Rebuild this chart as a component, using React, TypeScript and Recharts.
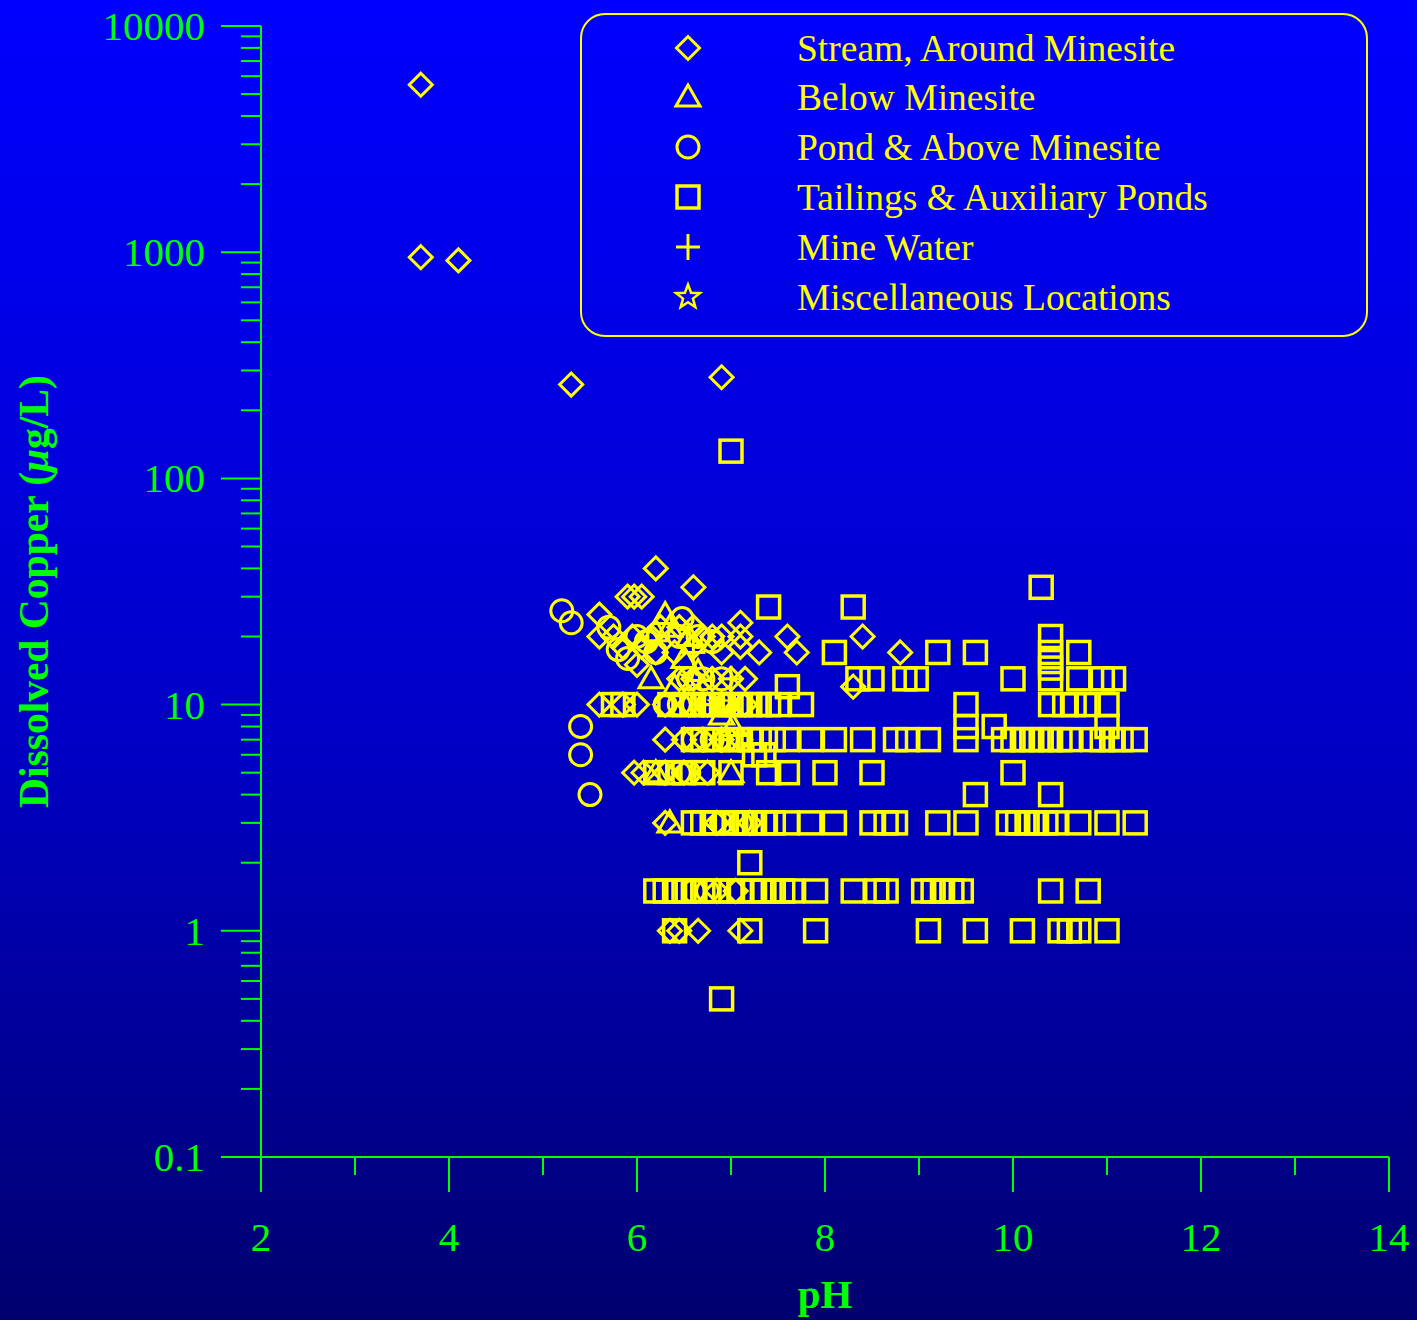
import React from 'react';
import { ScatterChart, Scatter, XAxis, YAxis, Legend } from 'recharts';

const YELLOW = '#FFFF00';
const GREEN = '#00FF00';
const FONT = '"Liberation Serif", "Times New Roman", Times, serif';

// [pH, dissolved copper ug/L]
const stream: Array<[number, number]> = [
  [3.7, 5500], [3.7, 950], [4.1, 920], [5.3, 260], [6.9, 280], [6.2, 40], [6.6, 33],
  [5.9, 30], [5.97, 30], [6.05, 30], [5.6, 25], [5.6, 20], [5.75, 20], [5.95, 20], [6.15, 20],
  [6.25, 22], [6.45, 22], [6.6, 22], [6.7, 20], [6.8, 20], [6.9, 20], [7.1, 23], [7.1, 20],
  [7.6, 20], [8.4, 20], [6.2, 17], [6.4, 17], [6.6, 18], [6.9, 17], [7.1, 18], [7.3, 17],
  [7.7, 17], [8.8, 17], [8.3, 12], [6.0, 15], [6.45, 13], [6.6, 13], [6.8, 13], [7.0, 13],
  [7.15, 13], [5.6, 10], [5.85, 10], [6.0, 10], [6.3, 10], [6.55, 10], [6.75, 10], [6.95, 10],
  [7.15, 10], [6.3, 7], [6.5, 7], [6.7, 7], [6.9, 7], [7.1, 7], [5.97, 5], [6.07, 5], [6.3, 5],
  [6.5, 5], [6.75, 5], [6.3, 3], [6.85, 3], [7.2, 3], [6.85, 1.5], [7.05, 1.5], [6.35, 1],
  [6.45, 1], [6.65, 1], [7.1, 1], [5.85, 18], [6.05, 18],
];

const belowMinesite: Array<[number, number]> = [
  [6.3, 25], [6.2, 21], [6.35, 22], [6.55, 20], [6.15, 13], [6.4, 12], [6.65, 14],
  [7.02, 8], [7.0, 5], [6.2, 5], [6.35, 3], [6.5, 16], [6.9, 9],
];

const pondAbove: Array<[number, number]> = [
  [5.2, 26], [5.3, 23], [5.4, 8], [5.4, 6], [5.5, 4], [5.7, 22], [5.8, 17.5], [5.9, 16],
  [6.0, 20], [6.1, 19], [6.2, 17], [6.48, 24], [6.45, 20], [6.65, 20], [6.8, 19], [6.55, 13],
  [6.7, 13], [6.9, 13], [6.3, 10], [6.45, 10], [6.6, 10], [6.75, 10], [6.95, 10], [7.1, 10],
  [6.6, 7], [6.8, 7], [6.95, 7], [6.45, 5], [6.55, 5], [6.9, 3], [7.1, 3], [6.6, 1.5], [6.75, 1.5],
];

const tailings: Array<[number, number]> = [
  [7.0, 132], [10.3, 33], [7.4, 27], [8.3, 27],
  [10.4, 20], [10.4, 17], [10.4, 15.5], [10.4, 14.5], [10.4, 13], [10.4, 10],
  [8.1, 17], [9.2, 17], [9.6, 17], [10.7, 17],
  [8.35, 13], [8.5, 13], [8.85, 13], [8.97, 13], [10.0, 13], [10.7, 13], [10.95, 13], [11.07, 13],
  [7.6, 12],
  [5.75, 10], [5.85, 10], [6.35, 10], [6.5, 10], [6.6, 10], [6.7, 10], [6.8, 10], [6.9, 10],
  [7.0, 10], [7.1, 10], [7.2, 10], [7.3, 10], [7.4, 10], [7.5, 10], [7.75, 10], [9.5, 10],
  [10.55, 10], [10.65, 10], [10.8, 10], [11.0, 10],
  [9.5, 8], [9.8, 8], [11.0, 8],
  [6.6, 7], [6.7, 7], [6.85, 7], [7.0, 7], [7.1, 7], [7.2, 7], [7.3, 7], [7.45, 7], [7.6, 7],
  [7.85, 7], [8.1, 7], [8.4, 7], [8.75, 7], [8.88, 7], [9.1, 7], [9.5, 7], [9.9, 7], [10.0, 7],
  [10.1, 7], [10.2, 7], [10.3, 7], [10.4, 7], [10.5, 7], [10.6, 7], [10.85, 7], [10.95, 7],
  [11.05, 7], [11.15, 7], [11.3, 7],
  [7.25, 6], [7.35, 6],
  [6.2, 5], [6.35, 5], [6.5, 5], [6.7, 5], [7.0, 5], [7.4, 5], [7.6, 5], [8.0, 5], [8.5, 5], [10.0, 5],
  [9.6, 4], [10.4, 4],
  [6.6, 3], [6.7, 3], [6.8, 3], [6.95, 3], [7.05, 3], [7.15, 3], [7.25, 3], [7.35, 3], [7.45, 3],
  [7.6, 3], [7.84, 3], [8.1, 3], [8.5, 3], [8.65, 3], [8.75, 3], [9.2, 3], [9.5, 3], [9.95, 3],
  [10.05, 3], [10.15, 3], [10.25, 3], [10.35, 3], [10.45, 3], [10.7, 3], [11.0, 3], [11.3, 3],
  [7.2, 2],
  [6.2, 1.5], [6.3, 1.5], [6.4, 1.5], [6.5, 1.5], [6.6, 1.5], [6.7, 1.5], [6.85, 1.5], [7.0, 1.5],
  [7.1, 1.5], [7.25, 1.5], [7.35, 1.5], [7.45, 1.5], [7.55, 1.5], [7.65, 1.5], [7.9, 1.5],
  [8.3, 1.5], [8.55, 1.5], [8.65, 1.5], [9.05, 1.5], [9.15, 1.5], [9.25, 1.5], [9.35, 1.5],
  [9.45, 1.5], [10.4, 1.5], [10.8, 1.5],
  [6.4, 1], [7.2, 1], [7.9, 1], [9.1, 1], [9.6, 1], [10.1, 1], [10.5, 1], [10.6, 1], [10.7, 1], [11.0, 1],
  [6.9, 0.5],
];

const mineWater: Array<[number, number]> = [
  [6.7, 10], [6.9, 7], [7.0, 13], [6.6, 17], [6.8, 10],
];

const miscLocations: Array<[number, number]> = [
  [6.6, 13], [6.9, 10],
];

const xTicks = [2, 3, 4, 5, 6, 7, 8, 9, 10, 11, 12, 13, 14];
const xLabelTicks = [2, 4, 6, 8, 10, 12, 14];
const yMajorTicks = [0.1, 1, 10, 100, 1000, 10000];
const yMinorMultipliers = [2, 3, 4, 5, 6, 7, 8, 9];
const yTicks = [
  ...yMajorTicks,
  ...yMajorTicks.slice(0, -1).flatMap((d) => yMinorMultipliers.map((m) => m * d)),
].sort((a, b) => a - b);

type Kind = 'diamond' | 'triangle' | 'circle' | 'square' | 'plus' | 'star';

const seriesDefs: Array<{ name: string; kind: Kind; data: Array<[number, number]> }> = [
  { name: 'Stream, Around Minesite', kind: 'diamond', data: stream },
  { name: 'Below Minesite', kind: 'triangle', data: belowMinesite },
  { name: 'Pond & Above Minesite', kind: 'circle', data: pondAbove },
  { name: 'Tailings & Auxiliary Ponds', kind: 'square', data: tailings },
  { name: 'Mine Water', kind: 'plus', data: mineWater },
  { name: 'Miscellaneous Locations', kind: 'star', data: miscLocations },
];

function Marker({ kind, cx, cy }: { kind: Kind; cx: number; cy: number }) {
  const common = { fill: 'none', stroke: YELLOW, strokeWidth: 3 };
  switch (kind) {
    case 'diamond':
      return <polygon points={`${cx},${cy - 11.5} ${cx + 11.5},${cy} ${cx},${cy + 11.5} ${cx - 11.5},${cy}`} {...common} />;
    case 'triangle':
      return <polygon points={`${cx},${cy - 12} ${cx + 12},${cy + 9} ${cx - 12},${cy + 9}`} {...common} />;
    case 'circle':
      return <circle cx={cx} cy={cy} r={11} {...common} />;
    case 'square':
      return <rect x={cx - 11} y={cy - 11} width={22} height={22} {...common} strokeWidth={3.5} />;
    case 'plus':
      return (
        <g {...common}>
          <line x1={cx - 12} x2={cx + 12} y1={cy} y2={cy} />
          <line x1={cx} x2={cx} y1={cy - 13} y2={cy + 13} />
        </g>
      );
    case 'star': {
      const pts: string[] = [];
      for (let i = 0; i < 10; i++) {
        const r = i % 2 === 0 ? 12.5 : 5.2;
        const a = -Math.PI / 2 + (i * Math.PI) / 5;
        pts.push(`${cx + r * Math.cos(a)},${cy + r * Math.sin(a)}`);
      }
      return <polygon points={pts.join(' ')} {...common} strokeWidth={2.5} />;
    }
    default:
      return null;
  }
}

const XTick = (props: any) => {
  const { x, y, payload } = props;
  const v = payload.value;
  const major = xLabelTicks.includes(v);
  return (
    <g>
      <line x1={x} x2={x} y1={y} y2={y + (major ? 35 : 18)} stroke={GREEN} strokeWidth={2} />
      {major && (
        <text x={x} y={y + 94} textAnchor="middle" fill={GREEN} fontSize={41} fontFamily={FONT}>
          {v}
        </text>
      )}
    </g>
  );
};

const YTick = (props: any) => {
  const { x, y, payload } = props;
  const v = payload.value;
  const major = yMajorTicks.some((t) => Math.abs(t - v) < 1e-9);
  return (
    <g>
      <line x1={x - (major ? 40 : 20)} x2={x} y1={y} y2={y} stroke={GREEN} strokeWidth={2} />
      {major && (
        <text x={x - 56} y={y + 14} textAnchor="end" fill={GREEN} fontSize={41} fontFamily={FONT}>
          {String(v)}
        </text>
      )}
    </g>
  );
};

const XTitle = (props: any) => {
  const vb = props.viewBox || { x: 261, y: 1157, width: 1128 };
  return (
    <text x={vb.x + vb.width / 2} y={vb.y + 151} textAnchor="middle" fill={GREEN} fontSize={41} fontWeight="bold" fontFamily={FONT}>
      pH
    </text>
  );
};

const YTitle = (props: any) => {
  const vb = props.viewBox || { x: 181, y: 26, height: 1131 };
  const cx = 48;
  const cy = vb.y + vb.height / 2;
  return (
    <text x={cx} y={cy} transform={`rotate(-90 ${cx} ${cy})`} textAnchor="middle" fill={GREEN} fontSize={41.5} fontWeight="bold" fontFamily={FONT}>
      Dissolved Copper (<tspan fontStyle="italic">μ</tspan>g/L)
    </text>
  );
};

const LegendBox = () => {
  const rowY = [35, 84, 134, 184, 234, 284];
  return (
    <svg width={790} height={326} style={{ display: 'block' }}>
      <rect x={1} y={1} width={786} height={322} rx={24} ry={24} fill="none" stroke={YELLOW} strokeWidth={2} />
      {seriesDefs.map((s, i) => (
        <g key={s.name}>
          <Marker kind={s.kind} cx={108} cy={rowY[i]} />
          <text x={217} y={rowY[i] + 13} fill={YELLOW} fontSize={37.5} fontFamily={FONT}>
            {s.name}
          </text>
        </g>
      ))}
    </svg>
  );
};

export default function App() {
  return (
    <div
      style={{
        position: 'absolute',
        left: 0,
        top: 0,
        width: 1417,
        height: 1320,
        background: 'linear-gradient(to bottom, #0000FF 0%, #0000C8 55%, #00006E 100%)',
        overflow: 'hidden',
      }}
    >
      <ScatterChart width={1417} height={1320} margin={{ top: 26, right: 28, bottom: 103, left: 181 }}>
        <XAxis
          type="number"
          dataKey="ph"
          domain={[2, 14]}
          ticks={xTicks}
          interval={0}
          allowDataOverflow
          height={60}
          tickSize={0}
          tickMargin={0}
          tickLine={false}
          axisLine={{ stroke: GREEN, strokeWidth: 2 }}
          tick={(p: any) => <XTick {...p} />}
          label={(p: any) => <XTitle {...p} />}
        />
        <YAxis
          type="number"
          dataKey="cu"
          scale="log"
          domain={[0.1, 10000]}
          ticks={yTicks}
          interval={0}
          allowDataOverflow
          width={80}
          tickSize={0}
          tickMargin={0}
          tickLine={false}
          axisLine={{ stroke: GREEN, strokeWidth: 2 }}
          tick={(p: any) => <YTick {...p} />}
          label={(p: any) => <YTitle {...p} />}
        />
        <Legend
          layout="vertical"
          align="center"
          verticalAlign="middle"
          wrapperStyle={{ position: 'absolute', left: 580, top: 13, width: 790, height: 326 }}
          content={() => <LegendBox />}
        />
        {seriesDefs.map((s) => (
          <Scatter
            key={s.name}
            name={s.name}
            data={s.data.map(([ph, cu]) => ({ ph, cu }))}
            isAnimationActive={false}
            shape={(p: any) => <Marker kind={s.kind} cx={p.cx} cy={p.cy} />}
          />
        ))}
      </ScatterChart>
    </div>
  );
}
